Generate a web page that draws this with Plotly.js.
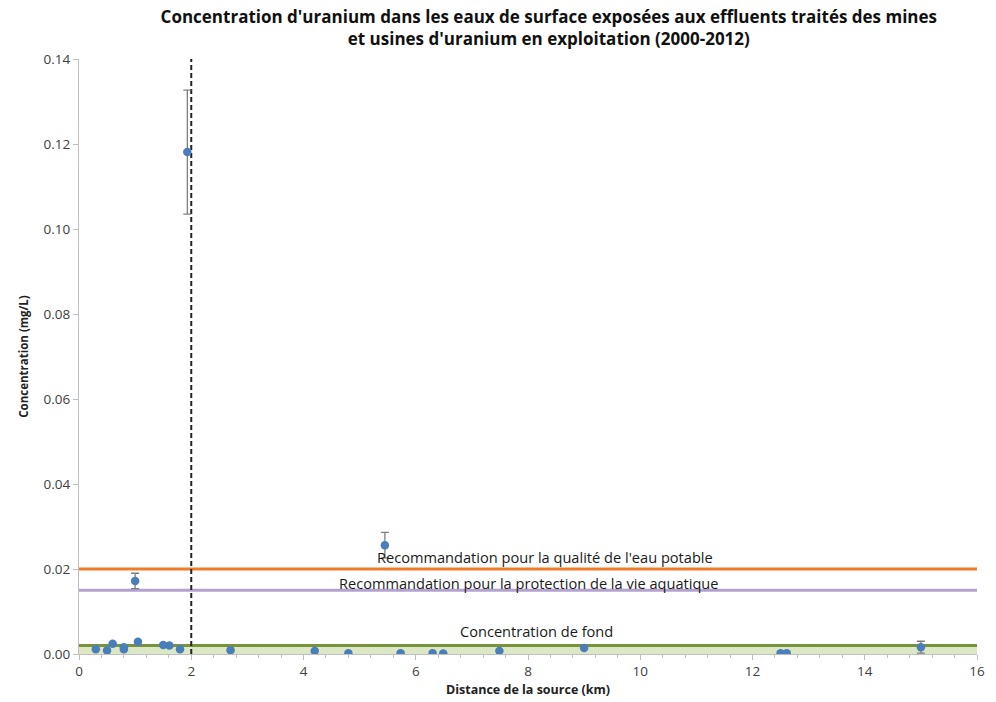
<!DOCTYPE html>
<html>
<head>
<meta charset="utf-8">
<script src="https://cdn.plot.ly/plotly-3.0.1.min.js"></script>
<style>
  html, body { margin: 0; padding: 0; background: #ffffff; }
  #chart { width: 996px; height: 702px; }
</style>
</head>
<body>
<div id="chart"></div>
<script>
// Sites without a reported uncertainty: distance (km) and concentration (mg/L)
const distanceKm = [0.30, 0.50, 0.60, 0.80, 0.80, 1.05, 1.50, 1.61, 1.80, 2.70, 4.20, 4.80, 5.73, 6.30, 6.49, 7.49, 9.00, 12.50, 12.61];
const concentration = [0.0011, 0.0008, 0.0024, 0.0016, 0.0011, 0.0029, 0.0021, 0.0020, 0.0011, 0.0009, 0.0007, 0.0002, 0.0002, 0.0002, 0.0001, 0.0007, 0.0014, 0.0002, 0.0002];

// Sites with an uncertainty (± mg/L)
const distanceKmErr = [1.00, 1.93, 5.45, 15.00];
const concentrationErr = [0.0172, 0.1181, 0.0256, 0.0016];
const uncertainty = [0.0018, 0.0146, 0.0030, 0.0014];

// Reference levels (mg/L) and their labels
const guidelineNames = [
  "Recommandation pour la qualité de l'eau potable",
  "Recommandation pour la protection de la vie aquatique",
  "Concentration de fond"
];
const guidelineValues = [0.020, 0.015, 0.002];
const guidelineLabelX = [8.3, 8.0, 8.15];
const guidelineLabelY = [0.0228, 0.0167, 0.0054];

// Distance of the vertical marker (km) and axis extents
const markerDistanceKm = 2;
const xExtent = [0, 16];
const yExtent = [0, 0.14];

const FONT = "'Open Sans', sans-serif";
const blue = "#4a7ebb";

const traces = [];

// Background band below the background concentration
traces.push({
  x: xExtent, y: [guidelineValues[2], guidelineValues[2]],
  type: "scatter", mode: "lines",
  line: { color: "rgba(0,0,0,0)", width: 0 },
  fill: "tozeroy", fillcolor: "rgba(155,187,89,0.35)",
  hoverinfo: "skip", showlegend: false
});

const guidelineColors = ["#f07c2a", "#b3a2d0", "#77933c"];
guidelineValues.forEach((v, i) => {
  traces.push({
    x: xExtent, y: [v, v],
    type: "scatter", mode: "lines",
    line: { color: guidelineColors[i], width: 3 },
    name: guidelineNames[i], showlegend: false
  });
});

// Vertical dashed marker
traces.push({
  x: [markerDistanceKm, markerDistanceKm], y: yExtent,
  type: "scatter", mode: "lines",
  line: { color: "#222222", width: 2, dash: "5px,3px" },
  hoverinfo: "skip", showlegend: false
});

traces.push({
  x: distanceKm, y: concentration,
  type: "scatter", mode: "markers",
  marker: { color: blue, size: 8.5 },
  showlegend: false
});

traces.push({
  x: distanceKmErr, y: concentrationErr,
  type: "scatter", mode: "markers",
  marker: { color: blue, size: 8.5 },
  error_y: { type: "data", array: uncertainty, visible: true, color: "#7f7f7f", thickness: 1.3, width: 4 },
  showlegend: false
});

const annotations = guidelineNames.map((t, i) => ({
  x: guidelineLabelX[i], y: guidelineLabelY[i], xref: "x", yref: "y",
  text: t, showarrow: false,
  font: { family: FONT, size: 14.6, color: "#1a1a1a" },
  xanchor: "center", yanchor: "middle"
}));

const layout = {
  width: 996, height: 702,
  paper_bgcolor: "#ffffff", plot_bgcolor: "#ffffff",
  margin: { l: 79, r: 19, t: 59, b: 48 },
  font: { family: FONT, color: "#404040" },
  title: {
    text: "<b>Concentration d'uranium dans les eaux de surface exposées aux effluents traités des mines<br>et usines d'uranium en exploitation (2000-2012)</b>",
    font: { family: FONT, size: 17, color: "#111111", lineposition: "none" },
    x: 0.551, xref: "container", xanchor: "center",
    y: 0.967, yref: "container", yanchor: "top"
  },
  xaxis: {
    range: xExtent, dtick: 2, tick0: 0,
    showgrid: false, zeroline: false,
    showline: true, linecolor: "#bfbfbf", linewidth: 1,
    ticks: "outside", ticklen: 5, tickcolor: "#bfbfbf",
    minor: { dtick: 0.4, ticks: "outside", ticklen: 3, tickcolor: "#bfbfbf", showgrid: false },
    tickfont: { family: FONT, size: 13.5, color: "#404040" },
    title: { text: "<b>Distance de la source (km)</b>", font: { family: FONT, size: 12.5, color: "#222222" }, standoff: 6 }
  },
  yaxis: {
    range: yExtent, dtick: 0.02, tickformat: ".2f",
    showgrid: false, zeroline: false,
    showline: true, linecolor: "#bfbfbf", linewidth: 1,
    ticks: "outside", ticklen: 5, tickcolor: "#bfbfbf",
    tickfont: { family: FONT, size: 13.5, color: "#404040" },
    title: { text: "<b>Concentration (mg/L)</b>", font: { family: FONT, size: 11.5, color: "#222222" }, standoff: 12 }
  },
  annotations: annotations,
  showlegend: false
};

Plotly.newPlot("chart", traces, layout, { displayModeBar: false, staticPlot: true });
</script>
</body>
</html>
